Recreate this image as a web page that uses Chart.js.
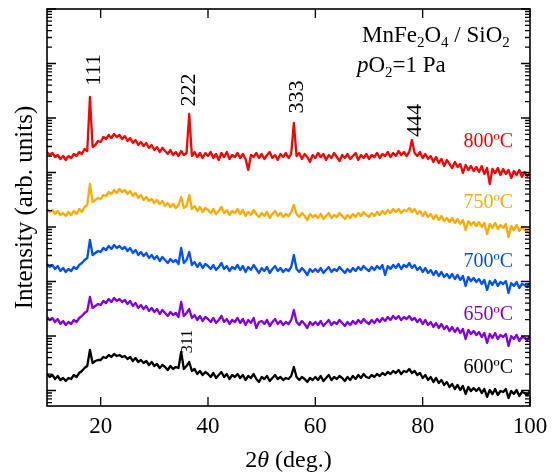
<!DOCTYPE html>
<html>
<head>
<meta charset="utf-8">
<script src="https://cdn.jsdelivr.net/npm/chart.js@4.4.1/dist/chart.umd.min.js"></script>
<style>
  body { margin: 0; background: #fff; }
  canvas { display: block; }
</style>
</head>
<body>
<canvas id="chart" width="555" height="475"></canvas>
<script>
  // 2theta grid of the scans (deg.)
  const angleStart = 10;
  const angleStep = 0.5;

  // log intensity (arb. units, one decade = 54.5), one row per 5 deg.
  const i800 = [
    254,251,253,249,251,247,250,246,250,248,
    252,250,254,252,257,255,309,259,261,265,
    264,269,267,271,268,272,269,271,267,270,
    265,268,263,266,261,264,260,263,258,261,
    256,259,254,258,255,252,256,251,254,250,
    255,251,253,292,250,254,249,253,248,253,
    250,254,248,252,246,253,249,254,247,251,
    249,253,248,252,247,236,251,249,253,248,
    252,247,251,254,248,251,246,252,249,253,
    248,252,283,250,253,247,252,249,244,251,
    248,253,249,252,246,251,248,253,249,245,
    251,248,252,247,250,253,246,251,248,252,
    247,251,249,253,248,252,250,254,249,253,
    250,255,251,254,250,254,266,253,250,254,
    248,252,247,250,244,249,243,247,240,246,
    242,238,244,239,242,233,241,236,240,235,
    239,234,240,232,238,222,237,233,238,231,
    237,232,236,228,235,231,236,229,234,230,
    233
  ];
  const i750 = [
    197,194,196,192,195,191,193,190,194,191,
    195,192,197,194,199,201,222,204,206,208,
    207,211,210,214,212,216,213,217,214,216,
    212,215,210,213,208,211,206,209,205,207,
    203,206,202,205,200,203,199,202,198,201,
    209,198,200,211,197,200,195,199,194,198,
    196,193,197,192,195,199,193,196,191,195,
    193,197,192,196,190,194,191,196,192,189,
    193,190,194,188,192,195,190,193,189,192,
    190,194,201,192,189,193,190,186,192,189,
    191,188,192,187,190,193,188,191,189,193,
    190,187,191,188,192,189,193,190,194,191,
    189,193,190,194,191,195,192,196,193,197,
    194,197,193,196,195,198,194,197,192,195,
    190,194,189,192,187,191,186,190,185,188,
    184,188,183,187,182,186,176,185,181,184,
    180,184,179,183,172,182,178,183,177,181,
    178,182,169,180,176,181,175,179,176,174,
    172
  ];
  const i700 = [
    142,139,141,137,140,135,138,134,137,135,
    139,137,141,143,146,148,166,151,153,155,
    154,158,156,160,157,161,158,160,157,159,
    155,158,153,156,151,154,150,153,148,151,
    147,150,145,149,146,143,147,144,146,142,
    158,143,146,154,141,144,139,143,138,142,
    140,137,141,136,139,143,137,140,135,139,
    137,141,136,140,134,139,136,141,137,133,
    138,135,139,133,137,140,135,138,134,137,
    135,139,151,137,134,138,135,131,137,134,
    137,134,138,133,136,139,134,137,135,139,
    136,133,137,134,138,135,139,136,140,137,
    135,139,136,140,137,141,131,140,137,141,
    138,142,137,141,139,143,138,141,136,139,
    134,138,133,136,131,135,130,134,129,132,
    128,132,127,131,126,130,120,129,125,128,
    124,127,122,126,116,125,121,126,120,124,
    122,125,113,123,120,124,118,122,121,119,
    123
  ];
  const i650 = [
    89,86,88,84,87,82,85,81,84,82,
    86,84,88,90,93,95,109,98,100,102,
    101,105,103,107,104,108,105,107,104,106,
    102,105,100,103,98,101,97,100,95,98,
    94,97,92,96,93,90,94,91,93,89,
    104,90,93,97,88,91,86,90,85,89,
    87,84,88,83,86,90,84,87,82,86,
    84,88,83,87,81,86,83,88,78,84,
    85,82,86,80,84,87,82,85,81,84,
    82,86,96,84,81,85,82,78,84,81,
    84,81,85,80,83,86,81,84,82,86,
    83,80,84,81,85,82,86,83,87,84,
    82,86,83,87,84,88,85,89,86,90,
    87,90,86,89,87,90,86,88,84,87,
    82,86,81,84,79,83,78,82,77,80,
    75,79,74,78,73,77,67,76,72,75,
    71,74,69,73,63,72,68,73,67,71,
    69,72,60,70,67,71,65,69,68,66,
    70
  ];
  const i600 = [
    32,29,31,27,30,26,28,25,28,27,
    31,29,33,35,38,40,56,43,45,46,
    46,49,48,51,49,52,50,51,49,50,
    47,49,45,48,44,46,43,45,41,44,
    40,42,38,41,39,36,40,37,39,38,
    54,37,40,44,35,37,32,35,31,34,
    32,29,33,28,31,34,29,32,27,31,
    29,32,28,31,26,30,28,32,27,24,
    29,27,30,25,28,31,27,29,26,28,
    27,30,39,29,26,29,27,24,28,26,
    29,26,30,25,28,31,26,29,27,30,
    28,25,29,26,30,27,31,28,32,29,
    28,31,29,32,30,33,31,34,32,35,
    33,36,32,35,34,37,33,35,31,33,
    28,31,26,29,24,28,23,26,21,24,
    19,22,17,21,16,20,12,19,15,18,
    15,18,13,17,9,16,12,17,11,15,
    14,17,8,15,12,16,10,14,13,11,
    15
  ];

  const seriesLabels = ['800ºC', '750ºC', '700ºC', '650ºC', '600ºC'];
  const seriesColors = ['#ff0000', '#ffaa00', '#0050ff', '#8000e6', '#000000'];
  const seriesLabelPos = [259, 198, 139, 86, 33];

  const xTicks = [20, 40, 60, 80, 100];
  const peakLabels = ['111', '222', '333', '444', '311'];
  const peakAngles = [18.85, 36.55, 56.6, 78.65, 36.2];
  const peakHeights = [336, 316, 309, 285.5, 64.5];

  const decade = 54.5;
  const decadeBase = 15.5;

  const angles = i800.map((v, i) => angleStart + i * angleStep);
  const series = [i800, i750, i700, i650, i600];

  const serif = '"Liberation Serif", "Times New Roman", serif';

  function drawRuns(ctx, runs, x, y) {
    runs.forEach(r => {
      ctx.font = r.font;
      ctx.fillText(r.t, x, y + (r.dy || 0));
      x += ctx.measureText(r.t).width;
    });
  }

  const decorations = {
    id: 'decorations',
    afterDatasetsDraw(chart) {
      const {ctx, chartArea: a, scales: {x, y}} = chart;
      ctx.save();
      ctx.strokeStyle = '#000';
      ctx.lineWidth = 1.6;
      ctx.strokeRect(a.left, a.top, a.right - a.left, a.bottom - a.top);

      ctx.beginPath();
      ctx.lineWidth = 1.3;
      xTicks.forEach(v => {
        const px = x.getPixelForValue(v);
        ctx.moveTo(px, a.bottom); ctx.lineTo(px, a.bottom - 9);
        ctx.moveTo(px, a.top); ctx.lineTo(px, a.top + 9);
      });
      for (let k = -1; k < 8; k++) {
        for (let m = 1; m < 10; m++) {
          const v = decadeBase + decade * (k + Math.log10(m));
          if (v < y.min || v > y.max) continue;
          const len = m === 1 ? 9 : 5;
          const py = y.getPixelForValue(v);
          ctx.moveTo(a.left, py); ctx.lineTo(a.left + len, py);
          ctx.moveTo(a.right, py); ctx.lineTo(a.right - len, py);
        }
      }
      ctx.stroke();

      // reflection indices
      ctx.fillStyle = '#000';
      ctx.textAlign = 'center';
      ctx.textBaseline = 'middle';
      peakLabels.forEach((t, i) => {
        ctx.save();
        ctx.translate(x.getPixelForValue(peakAngles[i]), y.getPixelForValue(peakHeights[i]));
        ctx.rotate(-Math.PI / 2);
        ctx.font = (t === '311' ? '16px ' : '22px ') + serif;
        ctx.fillText(t, 0, 0);
        ctx.restore();
      });

      // temperature labels
      ctx.textAlign = 'right';
      ctx.textBaseline = 'alphabetic';
      ctx.font = '20px ' + serif;
      seriesLabels.forEach((t, i) => {
        ctx.fillStyle = seriesColors[i];
        ctx.fillText(t, x.getPixelForValue(96.85), y.getPixelForValue(seriesLabelPos[i]));
      });

      // sample text
      ctx.fillStyle = '#000';
      ctx.textAlign = 'left';
      const big = '23px ' + serif;
      const sub = '15px ' + serif;
      drawRuns(ctx, [
        {t: 'MnFe', font: big}, {t: '2', font: sub, dy: 5},
        {t: 'O', font: big}, {t: '4', font: sub, dy: 5},
        {t: ' / SiO', font: big}, {t: '2', font: sub, dy: 5}
      ], 362, 42);
      drawRuns(ctx, [
        {t: 'p', font: 'italic ' + big}, {t: 'O', font: big},
        {t: '2', font: sub, dy: 5}, {t: '=1 Pa', font: big}
      ], 357, 72);

      // x axis title
      const runs = [
        {t: '2', font: '24px ' + serif}, {t: 'θ', font: 'italic 24px ' + serif},
        {t: ' (deg.)', font: '24px ' + serif}
      ];
      let w = 0;
      runs.forEach(r => { ctx.font = r.font; w += ctx.measureText(r.t).width; });
      drawRuns(ctx, runs, (a.left + a.right) / 2 - w / 2, 467);
      ctx.restore();
    }
  };

  new Chart(
    document.getElementById('chart'),
    {
      type: 'line',
      data: {
        datasets: series.map((s, i) => ({
          label: seriesLabels[i],
          data: s.map((v, j) => ({x: angles[j], y: v})),
          borderColor: seriesColors[i],
          borderWidth: 2.3,
          borderJoinStyle: 'round',
          pointRadius: 0,
          tension: 0,
          fill: false
        }))
      },
      options: {
        responsive: false,
        animation: false,
        layout: {
          padding: { top: 9, right: 25 }
        },
        plugins: {
          legend: { display: false },
          tooltip: { enabled: false }
        },
        scales: {
          x: {
            type: 'linear',
            min: 10,
            max: 100,
            afterBuildTicks: s => { s.ticks = xTicks.map(v => ({value: v})); },
            afterFit: s => { s.height = 69; },
            grid: { display: false, drawTicks: false },
            border: { display: false },
            ticks: {
              color: '#000',
              padding: 7,
              maxRotation: 0,
              font: { family: serif, size: 23 }
            }
          },
          y: {
            type: 'linear',
            min: 0,
            max: 397,
            afterFit: s => { s.width = 47; },
            grid: { display: false, drawTicks: false },
            border: { display: false },
            ticks: { display: false },
            title: {
              display: true,
              text: 'Intensity (arb. units)',
              color: '#000',
              padding: { top: 10 },
              font: { family: serif, size: 25 }
            }
          }
        }
      },
      plugins: [decorations]
    }
  );
</script>
</body>
</html>
